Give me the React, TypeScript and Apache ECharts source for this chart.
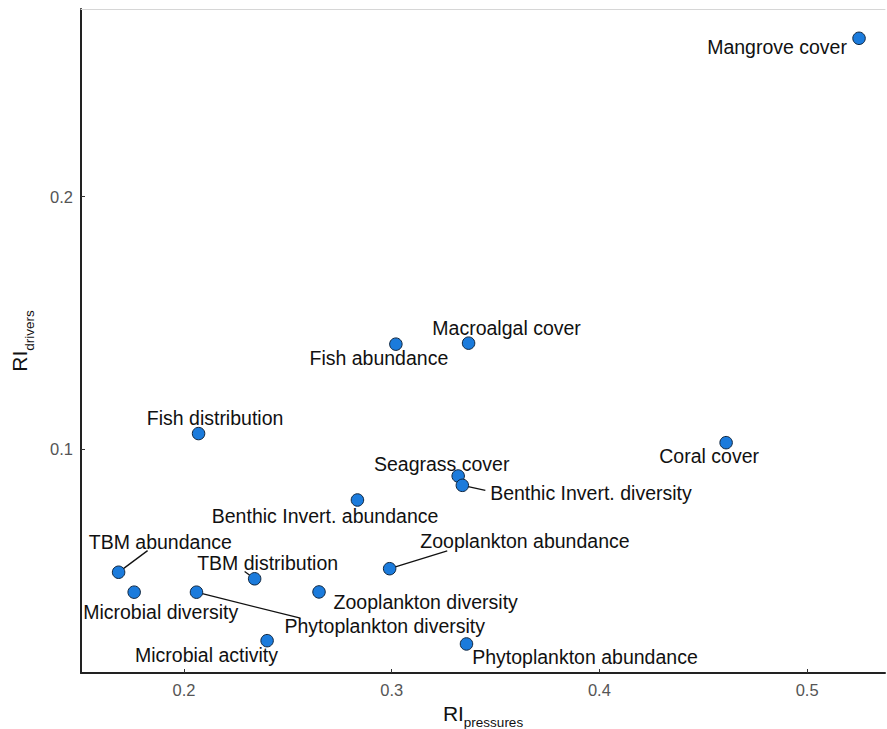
import React, { useEffect, useRef } from "react";
import * as echarts from "echarts";

const names = [
  "Mangrove cover",
  "Macroalgal cover",
  "Fish abundance",
  "Fish distribution",
  "Coral cover",
  "Seagrass cover",
  "Benthic Invert. diversity",
  "Benthic Invert. abundance",
  "TBM abundance",
  "Microbial diversity",
  "TBM distribution",
  "Zooplankton abundance",
  "Zooplankton diversity",
  "Phytoplankton diversity",
  "Microbial activity",
  "Phytoplankton abundance",
];

const riPressures = [
  0.525, 0.337, 0.302, 0.207, 0.461, 0.332, 0.334, 0.2835, 0.1685, 0.176, 0.234,
  0.299, 0.265, 0.206, 0.24, 0.336,
];

const riDrivers = [
  0.2627, 0.142, 0.1416, 0.1062, 0.1026, 0.0894, 0.0857, 0.0799, 0.0513, 0.0434,
  0.0487, 0.0527, 0.0435, 0.0434, 0.0242, 0.0229,
];

const xTicks = [0.2, 0.3, 0.4, 0.5];
const yTicks = [0.1, 0.2];

// label placement (pixel offsets of label centre from the point)
const labelOffsets: [number, number][] = [
  [-82, 9],
  [38, -15],
  [-17, 14],
  [16.5, -15.5],
  [-17, 13.5],
  [-16.5, -12.3],
  [128.6, 8],
  [-32.4, 16],
  [41.7, -30.6],
  [26.5, 20],
  [13, -15.3],
  [135.3, -27.7],
  [106.7, 10],
  [188.3, 34],
  [-60.6, 14.8],
  [118.5, 13],
];
// connector end (pixel offset from the point), null = no connector
const connectorEnds: ([number, number] | null)[] = [
  null, null, null, null, null, null,
  [23, 5],
  null,
  [29, -21.6],
  null,
  [-10, -7.3],
  [57.6, -17.7],
  null,
  [104, 26],
  null, null,
];

const X_MIN = 0.1504;
const X_MAX = 0.5375;
const Y_MIN = 0.0114;
const Y_MAX = 0.2743;

const FONT = "'Liberation Sans', Arial, Helvetica, sans-serif";

export default function App() {
  const ref = useRef<HTMLDivElement>(null);

  useEffect(() => {
    if (!ref.current) return;
    const chart = echarts.init(ref.current, null, { renderer: "svg" });

    const points = names.map((n, i) => ({
      name: n,
      value: [riPressures[i], riDrivers[i]],
    }));

    const axisTitleRich = {
      a: { fontSize: 21, lineHeight: 27, verticalAlign: "top", color: "#111", fontFamily: FONT },
      b: { fontSize: 13.5, lineHeight: 14, verticalAlign: "bottom", color: "#111", fontFamily: FONT },
    };

    chart.setOption({
      animation: false,
      backgroundColor: "#ffffff",
      grid: { left: 81, right: 2, top: 9, bottom: 56, containLabel: false, outerBoundsMode: "none" },
      xAxis: [
        {
          type: "value",
          min: X_MIN,
          max: X_MAX,
          position: "bottom",
          name: "{a|RI}{b|pressures}",
          nameLocation: "middle",
          nameGap: 25,
          nameTextStyle: { rich: axisTitleRich },
          axisLine: { show: true, onZero: false, lineStyle: { color: "#222", width: 2 } },
          axisTick: {
            show: true,
            inside: true,
            length: 4,
            customValues: xTicks,
            lineStyle: { color: "#333", width: 1 },
          },
          axisLabel: {
            customValues: xTicks,
            formatter: (v: number) => v.toFixed(1),
            color: "#555",
            fontSize: 16.5,
            fontFamily: FONT,
            margin: 8,
          },
          splitLine: { show: false },
        },
        {
          type: "value",
          min: X_MIN,
          max: X_MAX,
          position: "top",
          axisLine: { show: true, onZero: false, lineStyle: { color: "#d6d6d6", width: 1 } },
          axisTick: { show: false },
          axisLabel: { show: false },
          splitLine: { show: false },
        },
      ],
      yAxis: {
        type: "value",
        min: Y_MIN,
        max: Y_MAX,
        name: "{a|RI}{b|drivers}",
        nameLocation: "middle",
        nameGap: 45,
        nameRotate: 90,
        nameTextStyle: { rich: axisTitleRich },
        axisLine: { show: true, onZero: false, lineStyle: { color: "#222", width: 2 } },
        axisTick: {
          show: true,
          inside: true,
          length: 4,
          customValues: yTicks,
          lineStyle: { color: "#333", width: 1 },
        },
        axisLabel: {
          customValues: yTicks,
          formatter: (v: number) => v.toFixed(1),
          color: "#555",
          fontSize: 16.5,
          fontFamily: FONT,
          margin: 8,
        },
        splitLine: { show: false },
      },
      series: [
        {
          type: "custom",
          xAxisIndex: 0,
          z: 1,
          silent: true,
          data: points,
          renderItem: (params: any, api: any) => {
            const i = params.dataIndex;
            const end = connectorEnds[i];
            if (!end) return { type: "group", children: [] };
            const p = api.coord([api.value(0), api.value(1)]);
            const len = Math.hypot(end[0], end[1]);
            const r = 6;
            return {
              type: "line",
              shape: {
                x1: p[0] + (end[0] / len) * r,
                y1: p[1] + (end[1] / len) * r,
                x2: p[0] + end[0],
                y2: p[1] + end[1],
              },
              style: { stroke: "#111", lineWidth: 1.3 },
            };
          },
        },
        {
          type: "scatter",
          xAxisIndex: 0,
          z: 2,
          data: points,
          symbol: "circle",
          symbolSize: 12.5,
          itemStyle: { color: "#1b7bdc", borderColor: "#10263f", borderWidth: 1, opacity: 1 },
          label: {
            show: true,
            formatter: (p: any) => p.name,
            color: "#111",
            fontSize: 19.5,
            fontFamily: FONT,
            position: "inside",
          },
          labelLine: { show: false },
          labelLayout: (params: any) => {
            const i = params.dataIndex;
            const cx = params.rect.x + params.rect.width / 2;
            const cy = params.rect.y + params.rect.height / 2;
            return {
              x: cx + labelOffsets[i][0],
              y: cy + labelOffsets[i][1],
              align: "center",
              verticalAlign: "middle",
              hideOverlap: false,
              moveOverlap: false,
            };
          },
          emphasis: { disabled: true },
        },
      ],
    });

    return () => chart.dispose();
  }, []);

  return (
    <div
      ref={ref}
      style={{ position: "fixed", left: 0, top: 0, width: 887, height: 729, background: "#fff" }}
    />
  );
}
